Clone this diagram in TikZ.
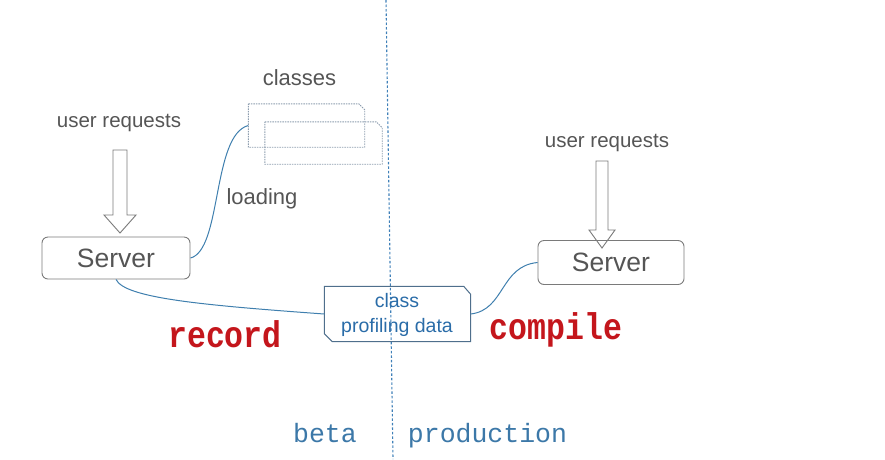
\documentclass[tikz,border=0pt]{standalone}
\usepackage{fontspec}
\setmainfont{Liberation Sans}
\newfontfamily\monofont{Liberation Mono}
\usetikzlibrary{calc}
\definecolor{txtgray}{HTML}{555555}
\definecolor{boxgray}{HTML}{7A7A7A}
\definecolor{linkblue}{HTML}{3F7FAE}
\definecolor{pdblue}{HTML}{2A6CA8}
\definecolor{pdedge}{HTML}{4F6F8C}
\definecolor{clsedge}{HTML}{8C9CAE}
\definecolor{recred}{HTML}{C4161C}
\definecolor{envblue}{HTML}{3C78A8}
\definecolor{sepblue}{HTML}{3F80B8}
\tikzset{
  lbl/.style={text=txtgray, inner sep=0, anchor=base, font=\fontsize{20.5}{24}\selectfont},
  serverbox/.style={draw=boxgray, line width=0.9pt, rounded corners=6pt, minimum width=148pt, minimum height=42pt, inner sep=0, text=txtgray, font=\fontsize{26.5}{30}\selectfont},
  hollow/.style={draw=boxgray, line width=0.9pt, fill=white},
  frame/.style={inner sep=0, draw=none},
  clsedgestyle/.style={draw=clsedge, line width=0.9pt, dash pattern=on 1.5pt off 1pt},
  pdedgestyle/.style={draw=pdedge, line width=1pt},
  link/.style={draw=linkblue, line width=1pt},
  bigword/.style={text=recred, inner sep=0, anchor=base, font=\monofont\bfseries\fontsize{31.5}{34}\selectfont},
  envword/.style={text=envblue, inner sep=0, anchor=base, font=\monofont\fontsize{26.5}{30}\selectfont},
}
\begin{document}
\begin{tikzpicture}[x=1pt,y=-1pt]
\useasboundingbox (0,0) rectangle (885,459);
% separator
\coordinate (dtop) at (386,0);
\coordinate (dbot) at (393,459);
\draw[sepblue, line width=1.1pt, dash pattern=on 2.5pt off 2pt] (dtop) -- (dbot);
% left side
\node[lbl] (ur1) at (119,127) {user requests};
\draw[hollow] (113,150) -- (127,150) -- (127,215) -- (136,215) -- (120,233) -- (104,215) -- (113,215) -- cycle;
\node[serverbox] (s1) at (116,258) {Server};
% classes
\node[lbl, font=\fontsize{22}{26}\selectfont] (cl) at (299.5,85) {classes};
\node[frame, minimum width=117pt, minimum height=42pt] (c2) at (323.5,143) {};
\node[frame, minimum width=116pt, minimum height=43pt] (c1) at (306.5,125.5) {};
\draw[clsedgestyle] (c2.north west) -- ($(c2.north east)+(-6,0)$) -- ($(c2.north east)+(0,6)$) -- (c2.south east) -- (c2.south west) -- cycle;
\draw[clsedgestyle] (c1.north west) -- ($(c1.north east)+(-6,0)$) -- ($(c1.north east)+(0,6)$) -- (c1.south east) -- (c1.south west) -- cycle;
\node[lbl, font=\fontsize{22}{26}\selectfont] (ld) at (262,204) {loading};
% profiling data
\node[frame, minimum width=146pt, minimum height=55pt] (pd) at (397.5,314) {};
\draw[pdedgestyle] (pd.north west) -- ($(pd.north east)+(-7,0)$) -- ($(pd.north east)+(0,8)$) -- (pd.south east) -- ($(pd.south west)+(8,0)$) -- ($(pd.south west)+(0,-8)$) -- cycle;
\node[text=pdblue, inner sep=0, anchor=base, font=\fontsize{19.5}{22}\selectfont] (pd1) at (397,307) {class};
\node[text=pdblue, inner sep=0, anchor=base, font=\fontsize{19.5}{22}\selectfont] (pd2) at (397,332) {profiling data};
% right side
\node[lbl] (ur2) at (607,147) {user requests};
\draw[hollow] (596,161) -- (608,161) -- (608,230) -- (615,230) -- (602,248) -- (589,230) -- (596,230) -- cycle;
\node[serverbox, minimum width=146pt, minimum height=44pt] (s2) at (611,262.5) {Server};
% connectors
\draw[link] (s1.east) .. controls (222,250) and (212,135) .. (c1.west);
\draw[link] (s1.south) .. controls (125,298) and (200,305) .. (pd.west);
\draw[link] (pd.east) .. controls (505,310) and (500,266) .. (s2.west);
% words
\node[bigword] (rec) at (225,347) {\scalebox{1}[1.18]{record}};
\node[bigword] (cmp) at (556,339) {\scalebox{1}[1.18]{compile}};
\node[envword] (beta) at (325,442) {beta};
\node[envword] (prod) at (487.5,442) {production};
\end{tikzpicture}
\end{document}
